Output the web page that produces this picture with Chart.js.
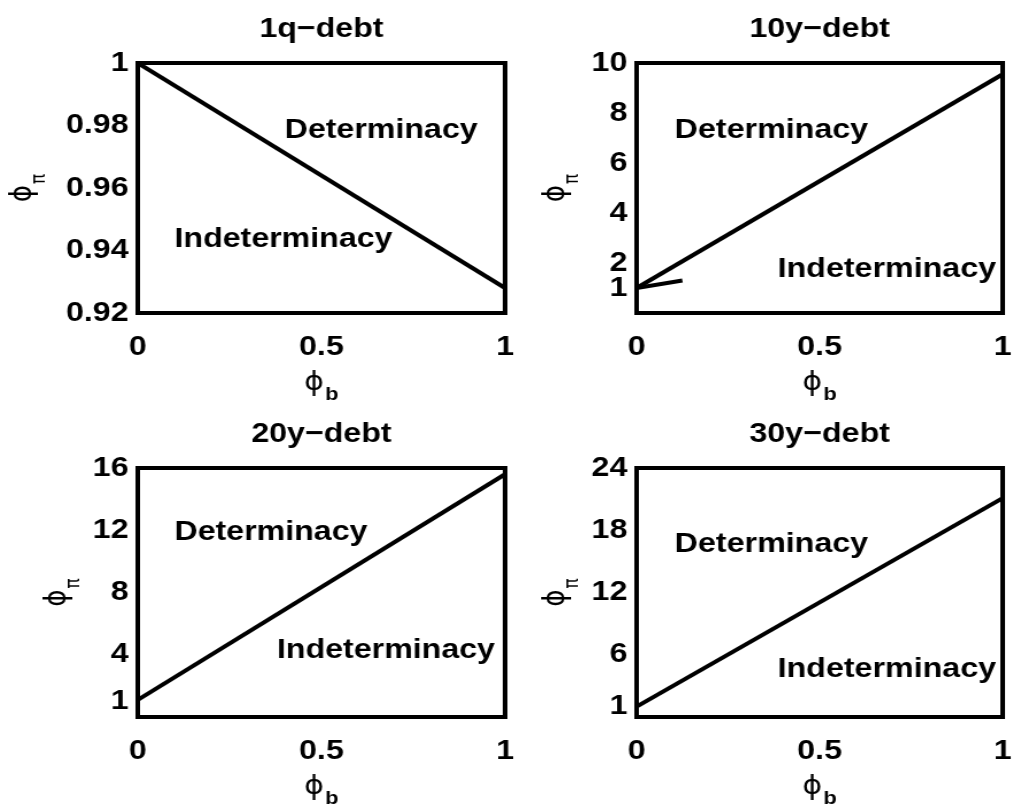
<!DOCTYPE html>
<html>
<head>
<meta charset="utf-8">
<title>Determinacy regions</title>
<script src="https://cdn.jsdelivr.net/npm/chart.js@4/dist/chart.umd.min.js"></script>
<style>
  body { margin: 0; background: #fff; }
  #wrap { position: relative; width: 1013px; height: 809px; }
  canvas { position: absolute; }
</style>
</head>
<body>
<div id="wrap">
  <!-- the original figure is stretched sideways, so the canvases are too -->
  <canvas id="c1" width="453" height="405" style="left:0px;top:0px;width:520px;height:405px"></canvas>
  <canvas id="c2" width="437" height="405" style="left:510px;top:0px;width:503px;height:405px"></canvas>
  <canvas id="c3" width="453" height="404" style="left:0px;top:405px;width:520px;height:404px"></canvas>
  <canvas id="c4" width="437" height="404" style="left:510px;top:405px;width:503px;height:404px"></canvas>
</div>
<script>
// data
const phiB = [0, 1];
const phiPi1q = [1.0, 0.928];
const phiPi10y = [1.0, 9.55];
const phiB10yKink = [0, 0.125];
const phiPi10yKink = [1.0, 1.3];
const phiPi20y = [1.1, 15.6];
const phiPi30y = [1.0, 21.1];

const xTicks = [0, 0.5, 1];
const yTicks1q = [0.92, 0.94, 0.96, 0.98, 1];
const yTicks10y = [1, 2, 4, 6, 8, 10];
const yTicks20y = [1, 4, 8, 12, 16];
const yTicks30y = [1, 6, 12, 18, 24];

const titles = ['1q\u2212debt', '10y\u2212debt', '20y\u2212debt', '30y\u2212debt'];

const boldFont = '"Liberation Sans", Arial, sans-serif';
const symFont = '"DejaVu Sans", sans-serif';

function toPoints(xs, ys) {
    return xs.map((x, i) => ({ x: x, y: ys[i] }));
}

// draws a symbol with a subscript, centered on (cx, base)
function drawSub(ctx, main, sub, subBold, cx, base, subDrop) {
    ctx.font = '26px ' + symFont;
    const w1 = ctx.measureText(main).width;
    ctx.font = (subBold ? 'bold 19px ' + boldFont : '17px ' + symFont);
    const w2 = ctx.measureText(sub).width;
    const start = cx - (w1 + 1 + w2) / 2;
    ctx.textAlign = 'left';
    ctx.font = '26px ' + symFont;
    ctx.fillText(main, start, base);
    ctx.font = (subBold ? 'bold 19px ' + boldFont : '17px ' + symFont);
    ctx.fillText(sub, start + w1 + 1, base + subDrop);
}

const panelDecor = {
    id: 'panelDecor',
    afterDatasetsDraw(chart, args, opts) {
        const ctx = chart.ctx;
        const a = chart.chartArea;
        const sx = chart.scales.x, sy = chart.scales.y;
        ctx.save();
        // box
        ctx.strokeStyle = '#000';
        ctx.lineWidth = 4;
        ctx.strokeRect(a.left, a.top, a.right - a.left, a.bottom - a.top);

        ctx.fillStyle = '#000';
        ctx.font = 'bold 28px ' + boldFont;
        ctx.textBaseline = 'alphabetic';
        ctx.textAlign = 'center';
        ctx.fillText(opts.title, (a.left + a.right) / 2, a.top - 26);

        ctx.textAlign = 'left';
        opts.regions.forEach(r => {
            ctx.fillText(r.text, sx.getPixelForValue(r.x), sy.getPixelForValue(r.y));
        });

        // x title
        drawSub(ctx, '\u03D5', 'b', true, (a.left + a.right) / 2, a.bottom + 77, 10);

        // y title, rotated
        ctx.save();
        ctx.translate(a.left - opts.yTitleGap, (a.top + a.bottom) / 2);
        ctx.rotate(-Math.PI / 2);
        drawSub(ctx, '\u03D5', '\u03C0', false, 0, 0, 12);
        ctx.restore();

        ctx.restore();
    }
};

function makePanel(id, p) {
    const datasets = p.series.map(s => ({
        data: toPoints(s[0], s[1]),
        borderColor: '#000',
        borderWidth: 4,
        pointRadius: 0,
        tension: 0,
        fill: false
    }));
    const tickFont = { family: boldFont, size: 28, weight: 'bold' };
    new Chart(document.getElementById(id), {
        type: 'line',
        data: { datasets: datasets },
        options: {
            responsive: false,
            animation: false,
            layout: { padding: { top: 63, right: p.right, left: 0, bottom: 0 } },
            plugins: {
                legend: { display: false },
                tooltip: { enabled: false },
                panelDecor: { title: p.title, regions: p.regions, yTitleGap: p.yTitleGap }
            },
            scales: {
                x: {
                    type: 'linear',
                    min: 0,
                    max: 1,
                    afterBuildTicks: s => { s.ticks = xTicks.map(v => ({ value: v })); },
                    afterFit: s => { s.height = 92; s.paddingLeft = 0; s.paddingRight = 0; },
                    grid: { display: false, drawTicks: false },
                    border: { display: false },
                    ticks: { font: tickFont, color: '#000', padding: 17, maxRotation: 0, callback: v => String(v) }
                },
                y: {
                    type: 'linear',
                    min: p.yMin,
                    max: p.yMax,
                    afterBuildTicks: s => { s.ticks = p.yTicks.map(v => ({ value: v })); },
                    afterFit: s => { s.width = p.left; },
                    grid: { display: false, drawTicks: false },
                    border: { display: false },
                    ticks: { font: tickFont, color: '#000', padding: 8, callback: v => String(v) }
                }
            }
        },
        plugins: [panelDecor]
    });
}

makePanel('c1', {
    title: titles[0], left: 120, right: 13, yMin: 0.92, yMax: 1, yTicks: yTicks1q, yTitleGap: 93,
    series: [[phiB, phiPi1q]],
    regions: [{ text: 'Determinacy', x: 0.40, y: 0.976 }, { text: 'Indeterminacy', x: 0.10, y: 0.941 }]
});
makePanel('c2', {
    title: titles[1], left: 110, right: 9, yMin: 0, yMax: 10, yTicks: yTicks10y, yTitleGap: 63,
    series: [[phiB, phiPi10y], [phiB10yKink, phiPi10yKink]],
    regions: [{ text: 'Determinacy', x: 0.104, y: 7.0 }, { text: 'Indeterminacy', x: 0.385, y: 1.45 }]
});
makePanel('c3', {
    title: titles[2], left: 120, right: 13, yMin: 0, yMax: 16, yTicks: yTicks20y, yTitleGap: 63,
    series: [[phiB, phiPi20y]],
    regions: [{ text: 'Determinacy', x: 0.10, y: 11.4 }, { text: 'Indeterminacy', x: 0.379, y: 3.8 }]
});
makePanel('c4', {
    title: titles[3], left: 110, right: 9, yMin: 0, yMax: 24, yTicks: yTicks30y, yTitleGap: 63,
    series: [[phiB, phiPi30y]],
    regions: [{ text: 'Determinacy', x: 0.104, y: 15.9 }, { text: 'Indeterminacy', x: 0.385, y: 3.85 }]
});
</script>
</body>
</html>
